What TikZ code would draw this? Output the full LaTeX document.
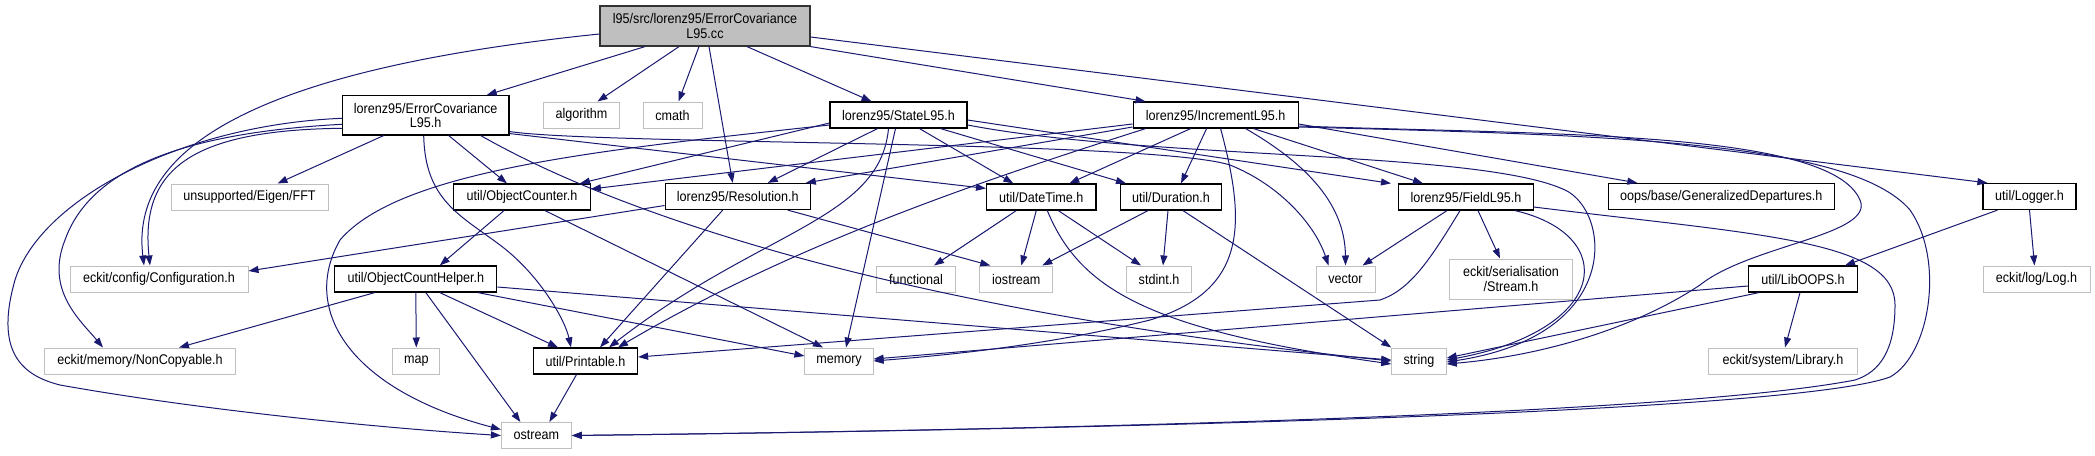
\documentclass[tikz,border=0pt]{standalone}
\usepackage{fontspec}
\setmainfont{Liberation Sans}[FakeStretch=0.9]
\usepackage{xcolor}
\usepackage{tikz}
\usetikzlibrary{arrows.meta,positioning}
\definecolor{edgec}{HTML}{191970}
\definecolor{extc}{HTML}{BFBFBF}
\definecolor{rootc}{HTML}{BFBFBF}
\tikzset{
  ar/.style={-{Triangle[length=10pt,width=7pt]},line width=1pt,edgec},
  hdr/.style={draw=black,line width=1.2pt,fill=white,minimum height=26pt,inner sep=0pt,align=center,font=\fontsize{14}{14.5}\selectfont},
  ext/.style={hdr,draw=extc,line width=1pt}
}

\begin{document}
\begin{tikzpicture}[x=1pt,y=-1pt]
\useasboundingbox (0,0) rectangle (2095,455);
\node[hdr,fill=rootc,draw=black!80,minimum width=210pt,minimum height=40pt] (root) at (705,26) {l95/src/lorenz95/ErrorCovariance\\L95.cc};
\node[hdr,minimum width=166.5pt,minimum height=39.3pt] (errh) at (425.7,115.3) {lorenz95/ErrorCovariance\\L95.h};
\node[ext,minimum width=75.5pt] (algo) at (581.5,115) {algorithm};
\node[ext,minimum width=59pt] (cmath) at (672.5,115) {cmath};
\node[hdr,minimum width=137pt] (state) at (898.5,115) {lorenz95/StateL95.h};
\node[hdr,minimum width=165pt] (incr) at (1215.6,115) {lorenz95/IncrementL95.h};
\node[ext,minimum width=157pt] (fft) at (249.5,197) {unsupported/Eigen/FFT};
\node[hdr,minimum width=136.6pt] (objc) at (522,197) {util/ObjectCounter.h};
\node[hdr,minimum width=145pt] (resol) at (737.7,196.5) {lorenz95/Resolution.h};
\node[hdr,minimum width=109.4pt] (dtime) at (1041.3,197) {util/DateTime.h};
\node[hdr,minimum width=101pt] (dur) at (1171,197) {util/Duration.h};
\node[hdr,minimum width=134.3pt] (field) at (1466,197) {lorenz95/FieldL95.h};
\node[hdr,minimum width=226pt] (gendep) at (1721.3,196.5) {oops/base/GeneralizedDepartures.h};
\node[hdr,minimum width=93pt] (logger) at (2029.5,196.5) {util/Logger.h};
\node[ext,minimum width=178pt] (cfg) at (159,279) {eckit/config/Configuration.h};
\node[hdr,minimum width=162pt] (och) at (415.8,279) {util/ObjectCountHelper.h};
\node[ext,minimum width=79.5pt] (func) at (916,279) {functional};
\node[ext,minimum width=72.8pt] (iostr) at (1016.3,279) {iostream};
\node[ext,minimum width=64.2pt] (stdint) at (1159,279) {stdint.h};
\node[ext,minimum width=59pt] (vec) at (1345.5,279) {vector};
\node[ext,minimum width=122.4pt,minimum height=40pt] (stream) at (1511,279) {eckit/serialisation\\/Stream.h};
\node[hdr,minimum width=109pt] (liboops) at (1803,279) {util/LibOOPS.h};
\node[ext,minimum width=107pt] (log) at (2036.5,279) {eckit/log/Log.h};
\node[ext,minimum width=190.7pt] (noncopy) at (140,361) {eckit/memory/NonCopyable.h};
\node[ext,minimum width=46.8pt] (map) at (416.3,361) {map};
\node[hdr,minimum width=104pt] (print) at (585.5,361) {util/Printable.h};
\node[ext,minimum width=68.2pt] (mem) at (839,361) {memory};
\node[ext,minimum width=54.5pt] (str) at (1419,361) {string};
\node[ext,minimum width=148.4pt] (lib) at (1783,361) {eckit/system/Library.h};
\node[ext,minimum width=70pt] (ostr) at (536.4,435.5) {ostream};

\draw[ar] ([xshift=-60pt]root.south) -- ([xshift=61pt]errh.north);
\draw[ar] ([xshift=-26pt]root.south) -- ([xshift=16pt]algo.north);
\draw[ar] ([xshift=-6pt]root.south) -- ([xshift=6pt]cmath.north);
\draw[ar] ([xshift=4pt]root.south) -- ([xshift=-5pt]resol.north);
\draw[ar] ([xshift=42pt]root.south) -- ([xshift=-27pt]state.north);
\draw[ar] (root.south east) -- ([xshift=-70pt]incr.north);
\draw[ar] ([yshift=-11pt]root.east) -- ([xshift=5pt]logger.north west);
\draw[ar] ([yshift=-8pt]root.west) .. controls (250,70) and (130,150) .. ([xshift=-15pt]cfg.north);

\draw[ar] ([yshift=-13pt]errh.west) .. controls (190,130) and (140,170) .. ([xshift=-9pt]cfg.north);
\draw[ar] ([yshift=-9pt]errh.west) .. controls (180,133) and (90,170) .. (65,240) .. controls (45,290) and (80,320) .. ([xshift=-37pt]noncopy.north);
\draw[ar] ([yshift=-3pt]errh.west) .. controls (180,125) and (40,200) .. (15,280) .. controls (-5,350) and (20,375) .. (60,385) .. controls (200,410) and (380,428) .. (ostr.west);
\draw[ar] ([xshift=-42pt]errh.south) -- ([xshift=28pt]fft.north);
\draw[ar] ([xshift=23pt]errh.south) -- ([xshift=-15pt]objc.north);
\draw[ar] ([xshift=-2pt]errh.south) .. controls (425,200) and (460,215) .. (500,245) .. controls (540,275) and (565,320) .. ([xshift=-14.5pt]print.north);
\draw[ar] ([xshift=55pt]errh.south) .. controls (620,215) and (900,310) .. (str.west);
\draw[ar] ([yshift=2pt]errh.south east) -- ([yshift=-5pt]dtime.north west);
\draw[ar] ([yshift=4pt]errh.south east) .. controls (600,145) and (1150,140) .. (1230,165) .. controls (1280,185) and (1315,225) .. ([xshift=-17pt]vec.north);

\draw[ar] ([yshift=-8pt]state.west) -- ([xshift=58pt]objc.north);
\draw[ar] ([xshift=-21pt]state.south) -- ([xshift=30pt]resol.north);
\draw[ar] ([xshift=-10pt]state.south) .. controls (880,220) and (760,230) .. ([xshift=23.5pt]print.north);
\draw[ar] ([xshift=-3pt]state.south) -- ([xshift=7pt]mem.north);
\draw[ar] ([xshift=21pt]state.south) -- ([xshift=-28pt]dtime.north);
\draw[ar] ([xshift=42pt]state.south) -- ([xshift=-45pt]dur.north);
\draw[ar] ([yshift=-5pt]state.east) -- ([xshift=-75pt]field.north);
\draw[ar] ([yshift=-10pt]state.east) .. controls (1150,160) and (1480,150) .. (1565,190) .. controls (1610,211) and (1625,335) .. ([yshift=-1pt]str.east);
\draw[ar] ([yshift=-10pt]state.west) .. controls (600,150) and (400,170) .. (340,240) .. controls (300,310) and (350,390) .. ([yshift=6pt]ostr.west);

\draw[ar] ([yshift=-9pt]incr.west) -- ([yshift=8pt]objc.east);
\draw[ar] ([yshift=-12pt]incr.west) -- ([xshift=-5pt]resol.north east);
\draw[ar] ([xshift=-70pt]incr.south) .. controls (1000,175) and (800,240) .. ([xshift=32.5pt]print.north);
\draw[ar] ([xshift=-25pt]incr.south) -- ([xshift=28pt]dtime.north);
\draw[ar] ([xshift=-9pt]incr.south) -- ([xshift=10pt]dur.north);
\draw[ar] ([xshift=5pt]incr.south) .. controls (1245,220) and (1250,290) .. (1150,320) .. controls (1050,345) and (950,355) .. (mem.east);
\draw[ar] ([xshift=30pt]incr.south) .. controls (1300,160) and (1345,200) .. (vec.north);
\draw[ar] ([xshift=38pt]incr.south) -- ([xshift=-43pt]field.north);
\draw[ar] ([yshift=-9pt]incr.east) -- ([xshift=-84pt]gendep.north);
\draw[ar] ([yshift=-11pt]incr.east) .. controls (1550,135) and (1830,130) .. (1860,200) .. controls (1875,235) and (1750,245) .. (1700,285) .. controls (1640,325) and (1550,355) .. ([yshift=-3pt]str.east);
\draw[ar] ([yshift=-12pt]incr.east) .. controls (1600,135) and (1850,140) .. (1910,210) .. controls (1945,260) and (1930,355) .. (1890,377) .. controls (1800,410) and (1200,428) .. (ostr.east);

\draw[ar] ([xshift=-19pt]field.south) -- ([xshift=17pt]vec.north);
\draw[ar] ([xshift=-6pt]field.south) .. controls (1430,260) and (1410,290) .. (1380,300) -- ([yshift=4pt]print.east);
\draw[ar] ([xshift=12pt]field.south) -- ([xshift=-11pt]stream.north);
\draw[ar] ([xshift=49pt]field.south) .. controls (1620,235) and (1610,330) .. ([yshift=1pt]str.east);
\draw[ar] ([yshift=-10pt]field.east) .. controls (1760,235) and (1895,240) .. (1895,305) .. controls (1895,350) and (1880,372) .. (1855,380) .. controls (1700,410) and (1200,428) .. (ostr.east);

\draw[ar] ([xshift=-32pt]logger.south) -- ([xshift=42pt]liboops.north);
\draw[ar] (logger.south) -- ([xshift=-2pt]log.north);
\draw[ar] ([xshift=-3pt]liboops.south) -- ([xshift=2pt]lib.north);
\draw[ar] ([xshift=-44pt]liboops.south) -- ([yshift=3pt]str.east);
\draw[ar] ([yshift=-7pt]liboops.west) -- ([yshift=2pt]mem.east);

\draw[ar] ([yshift=-9pt]resol.west) -- ([yshift=8pt]cfg.east);
\draw[ar] ([xshift=-15pt]resol.south) -- ([xshift=14.5pt]print.north);
\draw[ar] ([xshift=50pt]resol.south) -- ([xshift=-26pt]iostr.north);

\draw[ar] ([xshift=-18pt]objc.south) -- ([xshift=24pt]och.north);
\draw[ar] ([xshift=23pt]objc.south) -- ([xshift=-16pt]mem.north);

\draw[ar] ([xshift=-41pt]och.south) -- ([xshift=39pt]noncopy.north);
\draw[ar] (och.south) -- (map.north);
\draw[ar] ([xshift=10pt]och.south) -- ([xshift=-16pt]ostr.north);
\draw[ar] ([xshift=24pt]och.south) -- ([xshift=-27.5pt]print.north);
\draw[ar] ([xshift=62pt]och.south) -- ([yshift=5pt]mem.west);
\draw[ar] ([yshift=-8pt]och.east) -- ([yshift=1pt]str.west);

\draw[ar] ([xshift=-9pt]print.south) -- ([xshift=13pt]ostr.north);

\draw[ar] ([xshift=-25pt]dtime.south) -- ([xshift=18pt]func.north);
\draw[ar] ([xshift=-5pt]dtime.south) -- ([xshift=5pt]iostr.north);
\draw[ar] ([xshift=17pt]dtime.south) -- ([xshift=-18pt]stdint.north);
\draw[ar] ([xshift=6pt]dtime.south) .. controls (1080,290) and (1150,330) .. ([yshift=-3pt]str.west);

\draw[ar] ([xshift=-23pt]dur.south) -- ([xshift=26pt]iostr.north);
\draw[ar] ([xshift=-3pt]dur.south) -- ([xshift=4pt]stdint.north);
\draw[ar] ([xshift=12pt]dur.south) -- (str.north west);
\end{tikzpicture}
\end{document}
